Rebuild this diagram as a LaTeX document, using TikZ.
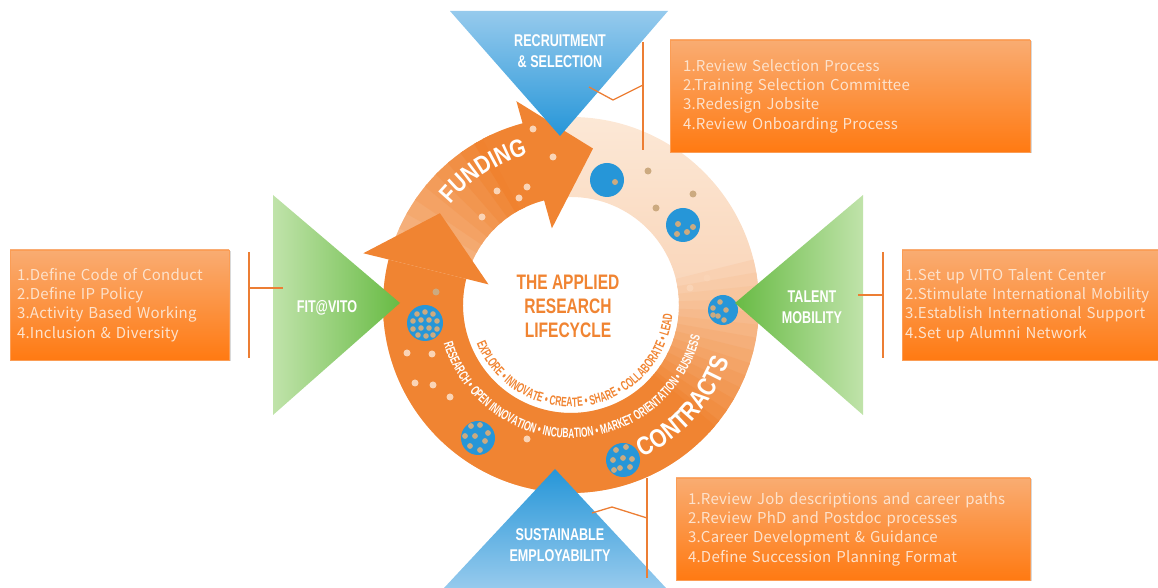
\documentclass[tikz,border=0pt]{standalone}
\usepackage{fontspec}
\setmainfont{Liberation Sans}
\newfontfamily\condfont[FakeStretch=0.74]{Liberation Sans}
\newfontfamily\arcfont[FakeStretch=0.82]{Liberation Sans}
\newfontfamily\narrowfont[FakeStretch=0.62]{Liberation Sans}
\newfontfamily\boxfont[WordSpace=1.8,LetterSpace=1.5]{Noto Sans CJK KR}
\usetikzlibrary{calc,shadows,decorations.text}
\hyphenpenalty=10000

\definecolor{lcorange}{RGB}{240,132,50}
\definecolor{lcpeach}{RGB}{246,192,152}
\definecolor{lcpeachlt}{RGB}{252,232,214}
\colorlet{lcpeachmid}{lcpeachlt!50!lcpeach}
\definecolor{lcblue}{RGB}{38,150,216}
\definecolor{lcbluelt}{RGB}{150,202,237}
\definecolor{lcgreen}{RGB}{104,187,68}
\definecolor{lcgreenlt}{RGB}{192,227,170}
\definecolor{lcboxtop}{RGB}{249,172,114}
\definecolor{lcboxbot}{RGB}{255,122,18}
\definecolor{lcboxtext}{RGB}{253,226,204}
\definecolor{lctan}{RGB}{204,170,128}
\definecolor{lcdot}{RGB}{250,212,182}
\definecolor{lcline}{RGB}{236,126,52}

\begin{document}
\begin{tikzpicture}[x=1pt,y=1pt,
    actionbox/.style={draw=lcboxtop!70!lcboxbot, line width=0.6pt, top color=lcboxtop, bottom color=lcboxbot,
      drop shadow={shadow xshift=1.5pt,shadow yshift=-1.5pt,opacity=0.3},
      text=lcboxtext, font=\boxfont\fontsize{15}{19.3}\selectfont, align=left, inner ysep=0pt},
    trilabel/.style={text=white, font=\condfont\bfseries\fontsize{17}{21.5}\selectfont, align=center},
    bracket/.style={lcline, line width=1.3pt},
    bluedot/.style={lcblue},
    tandot/.style={lctan}]
    \useasboundingbox (0,0) rectangle (1158,588);

    \begin{scope}[shift={(571,283)}]
        % ring
        \shade[top color=lcpeachlt, bottom color=lcpeach, even odd rule] (0,0) circle[radius=188] (0,0) circle[radius=108];

        % contracts band
        \foreach \i in {0,...,13} {
            \pgfmathsetmacro\a{14-4*\i}
            \pgfmathsetmacro\b{\a-5}
            \pgfmathtruncatemacro\p{4+\i*7}
            \fill[lcorange!\p!lcpeachmid] (\a:188) arc[start angle=\a, end angle=\b, radius=188] -- (\b:108) arc[start angle=\b, end angle=\a, radius=108] -- cycle;
        }
        \fill[lcorange] (-40:188) arc[start angle=-40, end angle=-194, radius=188] -- (-194:108) arc[start angle=-194, end angle=-40, radius=108] -- cycle;

        % funding band
        \foreach \i in {0,...,9} {
            \pgfmathsetmacro\a{166-5*\i}
            \pgfmathsetmacro\b{\a-6}
            \pgfmathtruncatemacro\p{30+\i*8}
            \fill[lcorange!\p!lcpeachmid] (\a:188) arc[start angle=\a, end angle=\b, radius=188] -- (\b:108) arc[start angle=\b, end angle=\a, radius=108] -- cycle;
        }
        \fill[lcorange] (118:188) arc[start angle=118, end angle=104, radius=188] -- (104:108) arc[start angle=104, end angle=118, radius=108] -- cycle;

        % arrow heads
        \fill[lcorange] (166:214) -- (145:160) -- (166:85) -- cycle;
        \fill[lcorange] (105:211) -- (82:158) -- (104:79) -- cycle;

        % small dots
        \foreach \x/\y in {-38/176, -18/148, -74/114, -44/118, -52/107, -89/88, 119/17, 136/27,
                -164/-48, -139/-49, -156/-78, -138/-80, -121/-92, -44/-134}
            \fill[lcdot] (\x,\y) circle[radius=3.5];
        \foreach \x/\y in {-135/13, 77/134, 85/97, 122/111, 106/-110}
            \fill[tandot] (\x,\y) circle[radius=3.5];

        % blue circles
        \fill[bluedot] (36,125) circle[radius=17];
        \fill[tandot] (44,123) circle[radius=3];
        \fill[bluedot] (112,80) circle[radius=17];
        \foreach \x/\y in {-5/1, 10/-2, 4/-7, -6/-9}
            \fill[tandot] (112+\x,80+\y) circle[radius=3];
        \fill[bluedot] (152,-5) circle[radius=15];
        \foreach \x/\y in {-10/2, -3/8, 3/0, -5/-6, 1/-10, -10/-5}
            \fill[tandot] (152+\x,-5+\y) circle[radius=2.8];
        \fill[bluedot] (-146,-18) circle[radius=18];
        \foreach \x/\y in {-8/9, 0/11, 8/9, -12/2, -4/3, 4/3, 12/2, -12/-6, -4/-5, 4/-5, 12/-6, -7/-12, 1/-13, 8/-12}
            \fill[tandot] (-146+\x,-18+\y) circle[radius=2.8];
        \fill[bluedot] (-93,-133) circle[radius=17];
        \foreach \x/\y in {-7/12, 2/13, 10/5, -13/2, -3/2, 7/-3, -8/-8, 2/-12}
            \fill[tandot] (-93+\x,-133+\y) circle[radius=2.9];
        \fill[bluedot] (52,-155) circle[radius=17];
        \foreach \x/\y in {-7/10, 3/13, 9/1, -10/0, 0/2, -3/-8, 7/-7, -9/-10}
            \fill[tandot] (52+\x,-155+\y) circle[radius=2.9];

        % texts on the ring
        \path[decorate, decoration={text along path, text color=white, text align=center,
            text={|\arcfont\bfseries\fontsize{25}{25}\selectfont|FUNDING}}]
            (152:157) arc[start angle=152, end angle=94, radius=157];
        \path[decorate, decoration={text along path, text color=white, text align=center,
            text={|\arcfont\bfseries\fontsize{26}{26}\selectfont|CONTRACTS}}]
            (-82:168) arc[start angle=-82, end angle=-2, radius=168];
        \path[decorate, decoration={text along path, text color=white, text align=center,
            text={|\narrowfont\bfseries\fontsize{13.5}{13.5}\selectfont|RESEARCH • OPEN INNOVATION • INCUBATION • MARKET ORIENTATION • BUSINESS}}]
            (185:133) arc[start angle=185, end angle=358, radius=133];
        \path[decorate, decoration={text along path, text color=lcorange, text align=center,
            text={|\narrowfont\bfseries\fontsize{13.5}{13.5}\selectfont|EXPLORE • INNOVATE • CREATE • SHARE • COLLABORATE • LEAD}}]
            (195:102) arc[start angle=195, end angle=362, radius=102];
    \end{scope}

    \node[text=lcorange, font=\condfont\bfseries\fontsize{21}{24}\selectfont, align=center] (lifecycle) at (568,282) {THE APPLIED\\RESEARCH\\LIFECYCLE};

    % triangles
    \shade[top color=lcbluelt, bottom color=lcblue] (450,577) -- (668,577) -- (560,452) -- cycle;
    \shade[top color=lcblue, bottom color=lcbluelt] (555,119) -- (666,0) -- (444,0) -- cycle;
    \shade[left color=lcgreenlt, right color=lcgreen] (273,393) -- (400,285) -- (273,173) -- cycle;
    \shade[left color=lcgreen, right color=lcgreenlt] (863,393) -- (735,285) -- (863,173) -- cycle;

    \node[trilabel] (recruit) at (560,537) {RECRUITMENT\\\& SELECTION};
    \node[trilabel] (employ) at (560,43) {SUSTAINABLE\\EMPLOYABILITY};
    \node[trilabel] (fitvito) at (327,280) {FIT@VITO};
    \node[trilabel] (talent) at (812,281) {TALENT\\MOBILITY};

    % action boxes
    \node[actionbox, minimum width=360pt, minimum height=112pt, text width=334pt, inner xsep=13pt] (recruitbox) at (850,492)
        {1.Review Selection Process\\2.Training Selection Committee\\3.Redesign Jobsite\\4.Review Onboarding Process};
    \node[actionbox, minimum width=219pt, minimum height=110pt, text width=205pt, inner xsep=7pt] (fitbox) at (119.5,283)
        {1.Define Code of Conduct\\2.Define IP Policy\\3.Activity Based Working\\4.Inclusion \& Diversity};
    \node[actionbox, minimum width=256pt, minimum height=110pt, text width=250pt, inner xsep=3pt] (talentbox) at (1030,283)
        {1.Set up VITO Talent Center\\2.Stimulate International Mobility\\3.Establish International Support\\4.Set up Alumni Network};
    \node[actionbox, minimum width=354pt, minimum height=102pt, text width=330pt, inner xsep=12pt] (employbox) at (853,59)
        {1.Review Job descriptions and career paths\\2.Review PhD and Postdoc processes\\3.Career Development \& Guidance\\4.Define Succession Planning Format};

    % brackets
    \coordinate (rs-a) at (589,501);
    \coordinate (rs-b) at (613,488);
    \coordinate (rs-c) at (643,503);
    \coordinate (rs-top) at (643,546);
    \coordinate (rs-bot) at (643,438);
    \draw[bracket] (rs-top) -- (rs-bot);
    \draw[bracket] (rs-a) -- (rs-b) -- (rs-c);

    \coordinate (fv-top) at (249,336);
    \coordinate (fv-bot) at (249,230);
    \coordinate (fv-a) at (249,300);
    \coordinate (fv-b) at (283,300);
    \draw[bracket] (fv-top) -- (fv-bot);
    \draw[bracket] (fv-a) -- (fv-b);

    \coordinate (tm-top) at (883,336);
    \coordinate (tm-bot) at (883,230);
    \coordinate (tm-a) at (858,293);
    \coordinate (tm-b) at (883,293);
    \draw[bracket] (tm-top) -- (tm-bot);
    \draw[bracket] (tm-a) -- (tm-b);

    \coordinate (se-a) at (592,75);
    \coordinate (se-b) at (612,81);
    \coordinate (se-c) at (647,70);
    \coordinate (se-top) at (647,110);
    \coordinate (se-bot) at (647,10);
    \draw[bracket] (se-top) -- (se-bot);
    \draw[bracket] (se-a) -- (se-b) -- (se-c);
\end{tikzpicture}
\end{document}
